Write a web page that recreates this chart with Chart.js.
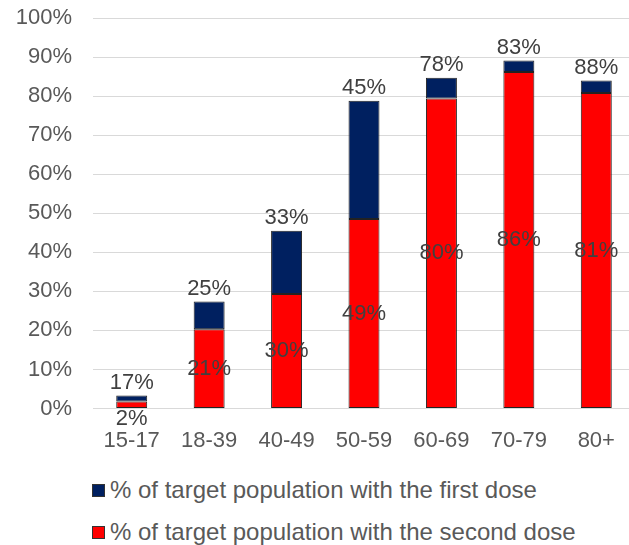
<!DOCTYPE html>
<html lang="en">
<head>
    <meta charset="UTF-8">
    <title>Vaccination by age group</title>
    <script src="https://cdn.jsdelivr.net/npm/chart.js"></script>
    <style>
        body { margin: 0; overflow: hidden; background: #fff; font-family: 'Liberation Sans', Arial, sans-serif; }
        .wrap { position: relative; width: 645px; height: 545px; }
        #legend { position: absolute; left: 92px; top: 469px; color: #595959; font-size: 24px; }
        #legend div { height: 42px; display: flex; align-items: center; }
        #legend span.box { display: inline-block; width: 11px; height: 11px; border: 1px solid #333; margin-right: 5px; }
    </style>
</head>
<body>
    <div class="wrap">
        <canvas id="doseChart" width="645" height="460"></canvas>
        <div id="legend"></div>
    </div>
    <script>
        const ageGroups = ['15-17', '18-39', '40-49', '50-59', '60-69', '70-79', '80+'];
        // bar segment heights (%)
        const secondDose = [1.8, 20.3, 29.3, 48.5, 79.4, 86.2, 80.8];
        const firstDoseExtra = [1.5, 7.1, 16.2, 30.3, 5.3, 2.9, 3.2];
        // label texts as printed on the chart
        const firstDoseLabels = ['17%', '25%', '33%', '45%', '78%', '83%', '88%'];
        const secondDoseLabels = ['2%', '21%', '30%', '49%', '80%', '86%', '81%'];
        const yTicks = [0, 10, 20, 30, 40, 50, 60, 70, 80, 90, 100];

        const FONT = "'Liberation Sans', Arial, sans-serif";

        const labelPlugin = {
            id: 'segmentLabels',
            afterDatasetsDraw(chart) {
                const ctx = chart.ctx;
                ctx.save();
                ctx.font = '22px ' + FONT;
                ctx.fillStyle = '#404040';
                ctx.textAlign = 'center';
                ctx.textBaseline = 'middle';
                chart.getDatasetMeta(0).data.forEach((bar, i) => {
                    let y = (bar.y + bar.base) / 2;
                    if (bar.base - bar.y < 16) y = bar.base + 11;
                    ctx.fillText(secondDoseLabels[i], bar.x, y);
                });
                chart.getDatasetMeta(1).data.forEach((bar, i) => {
                    ctx.fillText(firstDoseLabels[i], bar.x, bar.y - 13);
                });
                ctx.restore();
            }
        };

        const chart = new Chart(document.getElementById('doseChart'), {
            type: 'bar',
            data: {
                labels: ageGroups,
                datasets: [{
                    label: '% of target population with the second dose',
                    data: secondDose,
                    backgroundColor: '#ff0000',
                    borderColor: '#222',
                    borderWidth: 1,
                    borderSkipped: false
                }, {
                    label: '% of target population with the first dose',
                    data: firstDoseExtra,
                    backgroundColor: '#002060',
                    borderColor: '#222',
                    borderWidth: 1,
                    borderSkipped: false
                }]
            },
            options: {
                responsive: false,
                animation: false,
                layout: { padding: { top: 18, right: 10, left: 10, bottom: 0 } },
                datasets: { bar: { barPercentage: 0.4, categoryPercentage: 1 } },
                scales: {
                    x: {
                        stacked: true,
                        grid: { display: false },
                        border: { display: false },
                        afterFit: axis => { axis.height = 51.5; },
                        ticks: { color: '#595959', font: { family: FONT, size: 22 }, padding: 11 }
                    },
                    y: {
                        stacked: true,
                        min: 0,
                        max: 100,
                        afterBuildTicks: axis => { axis.ticks = yTicks.map(v => ({ value: v })); },
                        afterFit: axis => { axis.width = 83; axis.paddingTop = 0; },
                        grid: { color: '#d9d9d9', lineWidth: 1, drawTicks: false },
                        border: { display: false },
                        ticks: {
                            color: '#595959',
                            font: { family: FONT, size: 22 },
                            padding: 21,
                            callback: v => v + '%'
                        }
                    }
                },
                plugins: {
                    legend: { display: false },
                    tooltip: { enabled: false }
                }
            },
            plugins: [labelPlugin]
        });

        // legend: first dose listed first
        const legend = document.getElementById('legend');
        [1, 0].forEach(idx => {
            const ds = chart.data.datasets[idx];
            const row = document.createElement('div');
            row.innerHTML = '<span class="box" style="background:' + ds.backgroundColor + '"></span>' + ds.label;
            legend.appendChild(row);
        });
    </script>
</body>
</html>
